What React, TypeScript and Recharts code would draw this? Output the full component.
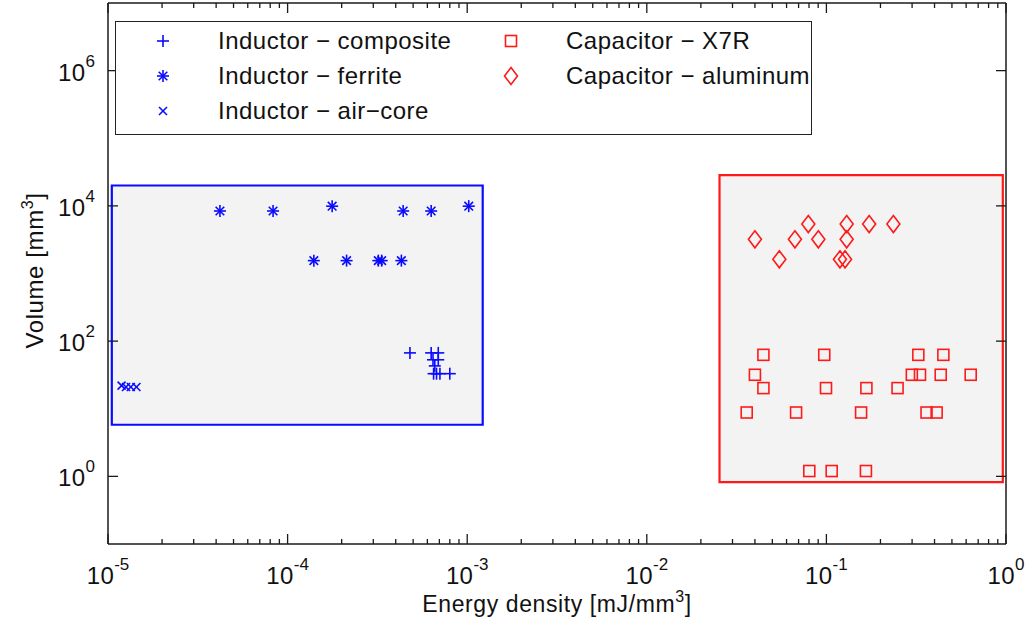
import React from 'react';
import { ScatterChart, Scatter, XAxis, YAxis, ReferenceArea, Legend, Label } from 'recharts';

const BLUE = '#0a0aff';
const RED = '#ff1a1a';
const AXIS = '#1a1a1a';
const FONT = '"Liberation Sans", Arial, Helvetica, sans-serif';

// energy density [mJ/mm^3] / volume [mm^3]
const compositeEnergy = [4.8e-4, 6.3e-4, 6.9e-4, 6.45e-4, 6.9e-4, 6.6e-4, 6.5e-4, 6.75e-4, 7.05e-4, 8.0e-4];
const compositeVolume = [67, 67, 67, 53, 53, 43, 33, 33, 33, 33];

const ferriteEnergy = [4.2e-5, 8.3e-5, 1.77e-4, 4.4e-4, 6.3e-4, 1.02e-3, 1.4e-4, 2.13e-4, 3.2e-4, 3.34e-4, 4.3e-4];
const ferriteVolume = [8400, 8400, 9900, 8400, 8400, 9900, 1550, 1550, 1550, 1550, 1550];

const airCoreEnergy = [1.19e-5, 1.26e-5, 1.34e-5, 1.44e-5];
const airCoreVolume = [22, 21, 21, 21];

const x7rEnergy = [
  0.0446, 0.0973, 0.325, 0.448,
  0.04, 0.299, 0.332, 0.433, 0.636,
  0.0446, 0.0995, 0.167, 0.249,
  0.036, 0.0678, 0.156, 0.361, 0.411,
  0.0803, 0.107, 0.166,
];
const x7rVolume = [
  62.7, 62.7, 62.7, 62.7,
  31.8, 31.8, 31.8, 31.8, 31.8,
  20.2, 20.2, 20.2, 20.2,
  8.8, 8.8, 8.8, 8.8, 8.8,
  1.2, 1.2, 1.2,
];

const aluminumEnergy = [0.04, 0.0547, 0.0668, 0.0793, 0.0902, 0.1297, 0.1297, 0.119, 0.127, 0.173, 0.236];
const aluminumVolume = [3200, 1620, 3200, 5380, 3200, 5380, 3200, 1620, 1620, 5380, 5380];

// shaded regions
const inductorBoxX = [1.05e-5, 1.22e-3];
const inductorBoxY = [5.8, 2.0e4];
const capacitorBoxX = [0.0254, 0.96];
const capacitorBoxY = [0.82, 2.85e4];

// axes
const xDomain = [1e-5, 1];
const yDomain = [0.1, 1e7];
const xMajorTicks = [1e-5, 1e-4, 1e-3, 1e-2, 1e-1, 1];
const minorSteps = [2, 3, 4, 5, 6, 7, 8, 9];
const yMajorTicks = [1, 1e2, 1e4, 1e6];

const xTicks = xMajorTicks.flatMap((d, i) =>
  i < xMajorTicks.length - 1 ? [d, ...minorSteps.map((m) => m * d)] : [d]
);

type MarkerKind = 'plus' | 'asterisk' | 'cross' | 'square' | 'diamond';

const series: { name: string; kind: MarkerKind; color: string; energy: number[]; volume: number[] }[] = [
  { name: 'Inductor − composite', kind: 'plus', color: BLUE, energy: compositeEnergy, volume: compositeVolume },
  { name: 'Inductor − ferrite', kind: 'asterisk', color: BLUE, energy: ferriteEnergy, volume: ferriteVolume },
  { name: 'Inductor − air−core', kind: 'cross', color: BLUE, energy: airCoreEnergy, volume: airCoreVolume },
  { name: 'Capacitor − X7R', kind: 'square', color: RED, energy: x7rEnergy, volume: x7rVolume },
  { name: 'Capacitor − aluminum', kind: 'diamond', color: RED, energy: aluminumEnergy, volume: aluminumVolume },
];

/* ------------------------------------------------------------------ */
/*  markers                                                            */
/* ------------------------------------------------------------------ */

function Marker({ kind, cx, cy, color }: { kind: MarkerKind; cx: number; cy: number; color: string }) {
  const sw = 1.6;
  if (cx == null || cy == null) return null;
  switch (kind) {
    case 'plus':
      return (
        <g stroke={color} strokeWidth={sw}>
          <line x1={cx - 6} y1={cy} x2={cx + 6} y2={cy} />
          <line x1={cx} y1={cy - 6} x2={cx} y2={cy + 6} />
        </g>
      );
    case 'asterisk':
      return (
        <g stroke={color} strokeWidth={sw}>
          <line x1={cx - 6} y1={cy} x2={cx + 6} y2={cy} />
          <line x1={cx} y1={cy - 6} x2={cx} y2={cy + 6} />
          <line x1={cx - 4.3} y1={cy - 4.3} x2={cx + 4.3} y2={cy + 4.3} />
          <line x1={cx - 4.3} y1={cy + 4.3} x2={cx + 4.3} y2={cy - 4.3} />
        </g>
      );
    case 'cross':
      return (
        <g stroke={color} strokeWidth={sw}>
          <line x1={cx - 4} y1={cy - 4} x2={cx + 4} y2={cy + 4} />
          <line x1={cx - 4} y1={cy + 4} x2={cx + 4} y2={cy - 4} />
        </g>
      );
    case 'square':
      return <rect x={cx - 5.5} y={cy - 5.5} width={11} height={11} fill="none" stroke={color} strokeWidth={sw} />;
    case 'diamond':
      return (
        <path
          d={`M${cx},${cy - 8.5}L${cx + 6.5},${cy}L${cx},${cy + 8.5}L${cx - 6.5},${cy}Z`}
          fill="none"
          stroke={color}
          strokeWidth={sw}
        />
      );
  }
  return null;
}

/* ------------------------------------------------------------------ */
/*  ticks (inward, MATLAB style)                                       */
/* ------------------------------------------------------------------ */

const MAJOR_LEN = 10;
const MINOR_LEN = 5;
const exponentOf = (v: number) => Math.round(Math.log10(v));
const isDecade = (v: number) => Math.abs(Math.log10(v) - exponentOf(v)) < 1e-6;

function PowerLabel({ x, y, exp, anchor }: { x: number; y: number; exp: number; anchor: 'middle' | 'end' }) {
  return (
    <text x={x} y={y} textAnchor={anchor} fontFamily={FONT} fontSize={24} letterSpacing={0.4} fill="#111">
      <tspan>10</tspan>
      <tspan dy={-14} fontSize={17} letterSpacing={0}>
        {exp}
      </tspan>
    </text>
  );
}

const BottomTick = (props: any) => {
  const { x, y, payload } = props;
  const major = isDecade(payload.value);
  return (
    <g>
      <line x1={x} y1={y} x2={x} y2={y - (major ? MAJOR_LEN : MINOR_LEN)} stroke={AXIS} strokeWidth={1.3} />
      {major && <PowerLabel x={x} y={y + 40} exp={exponentOf(payload.value)} anchor="middle" />}
    </g>
  );
};

const TopTick = (props: any) => {
  const { x, y, payload } = props;
  const major = isDecade(payload.value);
  return <line x1={x} y1={y} x2={x} y2={y + (major ? MAJOR_LEN : MINOR_LEN)} stroke={AXIS} strokeWidth={1.3} />;
};

const LeftTick = (props: any) => {
  const { x, y, payload } = props;
  return (
    <g>
      <line x1={x} y1={y} x2={x + MAJOR_LEN} y2={y} stroke={AXIS} strokeWidth={1.3} />
      <PowerLabel x={x - 13} y={y + 10} exp={exponentOf(payload.value)} anchor="end" />
    </g>
  );
};

const RightTick = (props: any) => {
  const { x, y } = props;
  return <line x1={x} y1={y} x2={x - MAJOR_LEN} y2={y} stroke={AXIS} strokeWidth={1.3} />;
};

const renderXLabel = (props: any) => {
  const vb = props.viewBox;
  return (
    <text x={vb.x + vb.width / 2} y={vb.y + 68} textAnchor="middle" fontFamily={FONT} fontSize={23} letterSpacing={0.6} fill="#111">
      <tspan>Energy density [mJ/mm</tspan>
      <tspan dy={-10} fontSize={16}>3</tspan>
      <tspan dy={10}>]</tspan>
    </text>
  );
};

const renderYLabel = (props: any) => {
  const vb = props.viewBox;
  const cx = vb.x + 35;
  const cy = vb.y + vb.height / 2 - 3;
  return (
    <text
      x={cx}
      y={cy}
      transform={`rotate(-90, ${cx}, ${cy})`}
      textAnchor="middle"
      fontFamily={FONT}
      fontSize={24}
      letterSpacing={0.6}
      fill="#111"
    >
      <tspan>Volume [mm</tspan>
      <tspan dy={-10} fontSize={16}>3</tspan>
      <tspan dy={10}>]</tspan>
    </text>
  );
};

/* ------------------------------------------------------------------ */
/*  legend                                                             */
/* ------------------------------------------------------------------ */

function LegendBox() {
  return (
    <div
      style={{
        position: 'relative',
        width: 697,
        height: 114,
        border: '1.5px solid #222',
        boxSizing: 'border-box',
        background: '#fff',
        fontFamily: FONT,
        fontSize: 24,
        letterSpacing: 0.5,
        color: '#111',
      }}
    >
      {series.map((s, i) => {
        const col = i < 3 ? 0 : 1;
        const row = i < 3 ? i : i - 3;
        return (
          <div
            key={s.name}
            style={{
              position: 'absolute',
              left: col === 0 ? 35 : 383,
              top: 4 + row * 35,
              height: 30,
              display: 'flex',
              alignItems: 'center',
              whiteSpace: 'nowrap',
            }}
          >
            <svg width={24} height={24} style={{ overflow: 'visible' }}>
              <Marker kind={s.kind} cx={12} cy={12} color={s.color} />
            </svg>
            <span style={{ marginLeft: 43 }}>{s.name}</span>
          </div>
        );
      })}
    </div>
  );
}

/* ------------------------------------------------------------------ */
/*  chart                                                              */
/* ------------------------------------------------------------------ */

export default function App() {
  return (
    <div style={{ width: 1029, height: 634, background: '#fff' }}>
      <style>{'body{margin:0;background:#fff}'}</style>
      <ScatterChart width={1029} height={634} margin={{ top: 2, right: 22, bottom: 0, left: 8 }}>
        <XAxis
          xAxisId="b"
          type="number"
          dataKey="x"
          scale="log"
          domain={xDomain}
          allowDataOverflow
          ticks={xTicks}
          interval={0}
          tick={BottomTick}
          tickSize={0}
          tickMargin={0}
          tickLine={false}
          height={90}
          axisLine={{ stroke: AXIS, strokeWidth: 1.5 }}
          label={<Label content={renderXLabel} />}
        />
        <XAxis
          xAxisId="t"
          orientation="top"
          type="number"
          dataKey="x"
          scale="log"
          domain={xDomain}
          allowDataOverflow
          ticks={xTicks}
          interval={0}
          tick={TopTick}
          tickSize={0}
          tickMargin={0}
          tickLine={false}
          height={1}
          axisLine={{ stroke: AXIS, strokeWidth: 1.5 }}
        />
        <YAxis
          yAxisId="l"
          type="number"
          dataKey="y"
          scale="log"
          domain={yDomain}
          allowDataOverflow
          ticks={yMajorTicks}
          interval={0}
          tick={LeftTick}
          tickSize={0}
          tickMargin={0}
          tickLine={false}
          width={100}
          axisLine={{ stroke: AXIS, strokeWidth: 1.5 }}
          label={<Label content={renderYLabel} />}
        />
        <YAxis
          yAxisId="r"
          orientation="right"
          type="number"
          dataKey="y"
          scale="log"
          domain={yDomain}
          allowDataOverflow
          ticks={yMajorTicks}
          interval={0}
          tick={RightTick}
          tickSize={0}
          tickMargin={0}
          tickLine={false}
          width={1}
          axisLine={{ stroke: AXIS, strokeWidth: 1.5 }}
        />

        <ReferenceArea
          xAxisId="b"
          yAxisId="l"
          x1={inductorBoxX[0]}
          x2={inductorBoxX[1]}
          y1={inductorBoxY[0]}
          y2={inductorBoxY[1]}
          fill="#f3f3f3"
          fillOpacity={1}
          stroke={BLUE}
          strokeWidth={2.2}
        />
        <ReferenceArea
          xAxisId="b"
          yAxisId="l"
          x1={capacitorBoxX[0]}
          x2={capacitorBoxX[1]}
          y1={capacitorBoxY[0]}
          y2={capacitorBoxY[1]}
          fill="#f3f3f3"
          fillOpacity={1}
          stroke={RED}
          strokeWidth={2.2}
        />

        {series.map((s) => (
          <Scatter
            key={s.name}
            name={s.name}
            xAxisId="b"
            yAxisId="l"
            data={s.energy.map((x, i) => ({ x, y: s.volume[i] }))}
            isAnimationActive={false}
            shape={(p: any) => <Marker kind={s.kind} cx={p.cx} cy={p.cy} color={s.color} />}
          />
        ))}

        <Legend
          layout="horizontal"
          verticalAlign="middle"
          align="center"
          wrapperStyle={{ top: 21, left: 115, width: 697, height: 114 }}
          content={() => <LegendBox />}
        />
      </ScatterChart>
    </div>
  );
}
